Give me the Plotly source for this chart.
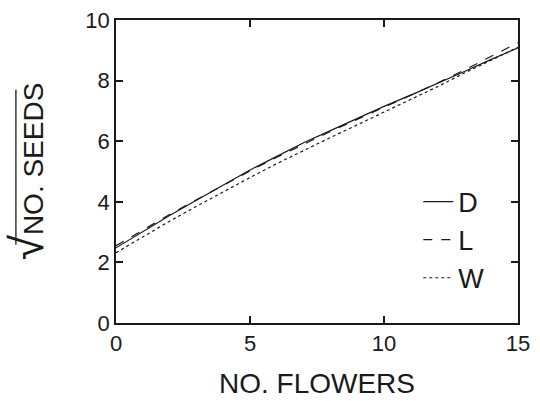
import plotly.graph_objects as go

flowers = [0, 1, 2, 3, 4, 5, 6, 7, 8, 9, 10, 11, 12, 13, 14, 15]
seeds_D = [2.48, 3.02, 3.55, 4.05, 4.55, 5.05, 5.50, 5.95, 6.35, 6.75, 7.15, 7.52, 7.90, 8.30, 8.70, 9.08]
seeds_L = [2.55, 3.07, 3.58, 4.07, 4.55, 5.02, 5.47, 5.90, 6.32, 6.72, 7.12, 7.52, 7.92, 8.35, 8.80, 9.25]
seeds_W = [2.32, 2.85, 3.36, 3.85, 4.33, 4.80, 5.26, 5.70, 6.12, 6.54, 6.96, 7.38, 7.80, 8.25, 8.68, 9.10]

series = [("D", seeds_D, "solid"), ("L", seeds_L, "dash"), ("W", seeds_W, "dot")]

FONT = "Liberation Sans, Arial, sans-serif"
INK = "#1a1a1a"

fig = go.Figure()
for name, vals, dash in series:
    fig.add_trace(go.Scatter(
        x=flowers, y=vals, mode="lines", name=name,
        line=dict(color=INK, width=1.2, dash=dash),
    ))

axis_common = dict(
    showline=True, linecolor=INK, linewidth=1.5, mirror="ticks",
    ticks="inside", ticklen=7, tickwidth=1.5, tickcolor=INK,
    showgrid=False, zeroline=False, automargin=False,
    tickfont=dict(family=FONT, size=22, color=INK),
)

fig.update_layout(
    width=540, height=401,
    margin=dict(l=116, r=22, t=20, b=78),
    paper_bgcolor="white", plot_bgcolor="white",
    font=dict(family=FONT, color=INK),
    xaxis=dict(range=[0, 15], dtick=5, tick0=0,
               title=dict(text="NO. FLOWERS", font=dict(family=FONT, size=28, color=INK), standoff=18),
               **axis_common),
    yaxis=dict(range=[0, 10], dtick=2, tick0=0,
               title=dict(text="<span style='font-size:46px'>√</span>NO. SEEDS",
                          font=dict(family=FONT, size=28, color=INK), standoff=34),
               **axis_common),
    legend=dict(x=0.752, y=0.274, xanchor="left", yanchor="middle",
                bgcolor="rgba(0,0,0,0)", font=dict(family=FONT, size=27, color=INK),
                itemwidth=30),
)

# vinculum (overline) of the square-root sign in the y-axis title
fig.add_shape(type="line", xref="paper", yref="paper",
              x0=-0.249, x1=-0.249, y0=0.258, y1=0.77,
              line=dict(color=INK, width=1.3))

fig.write_html("out.html")
